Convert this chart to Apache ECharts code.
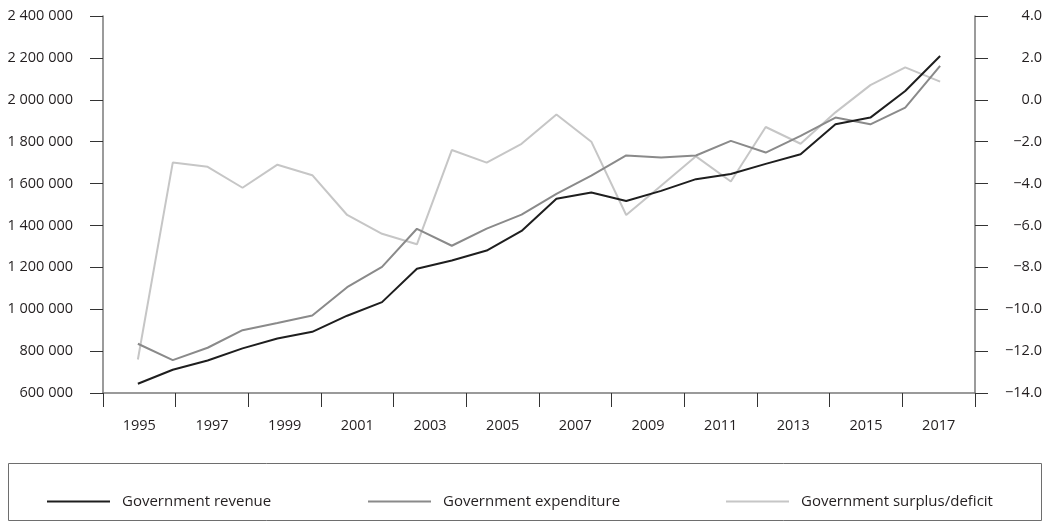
<!DOCTYPE html>
<html>
<head>
<meta charset="utf-8">
<script src="https://cdn.jsdelivr.net/npm/echarts@6/dist/echarts.min.js"></script>
<style>html,body{margin:0;padding:0;background:#fff}#c{width:1051px;height:521px}</style>
</head>
<body>
<div id="c"></div>
<script>
// Data points (24 yearly observations)
const years = ['1995','1996','1997','1998','1999','2000','2001','2002','2003','2004','2005','2006','2007','2008','2009','2010','2011','2012','2013','2014','2015','2016','2017','2018'];
// Axis tick labels shown under the chart
const xTickLabels = ['1995','1997','1999','2001','2003','2005','2007','2009','2011','2013','2015','2017'];

const revenue = [644000, 711000, 755000, 813000, 860000, 892000, 969000, 1034000, 1193000, 1233000, 1280000, 1374000, 1527000, 1557000, 1517000, 1565000, 1621000, 1646000, 1694000, 1740000, 1883000, 1915000, 2042000, 2209000];
const expenditure = [835000, 757000, 816000, 900000, 934000, 970000, 1105000, 1202000, 1384000, 1303000, 1385000, 1452000, 1551000, 1638000, 1734000, 1724000, 1734000, 1804000, 1748000, 1828000, 1915000, 1883000, 1963000, 2162000];
const surplus = [-12.4, -3.0, -3.2, -4.2, -3.1, -3.6, -5.5, -6.4, -6.9, -2.4, -3.0, -2.1, -0.7, -2.0, -5.5, -4.1, -2.7, -3.9, -1.3, -2.1, -0.6, 0.7, 1.55, 0.87];

const seriesNames = ['Government revenue', 'Government expenditure', 'Government surplus/deficit'];
const colors = ['#1e1e1e', '#8a8a8a', '#c6c6c6'];

const FONT = '"Open Sans", "Noto Sans", sans-serif';
const TXT = '#231f20';

function fmtThousands(v) {
  return String(Math.round(v)).replace(/\B(?=(\d{3})+(?!\d))/g, ' ');
}
function fmtRight(v) {
  return v.toFixed(1).replace('-', '\u2212');
}

const chart = echarts.init(document.getElementById('c'), null, {renderer: 'canvas'});

const legendCommon = {
  orient: 'horizontal',
  top: 488,
  padding: 0,
  itemWidth: 63,
  itemHeight: 2,
  icon: 'rect',
  selectedMode: false,
  textStyle: {fontFamily: FONT, fontSize: 15, color: TXT, lineHeight: 18, padding: [0, 0, 9, 7]}
};

chart.setOption({
  animation: false,
  backgroundColor: '#ffffff',
  color: colors,
  grid: {left: 103, right: 76, top: 16, bottom: 128, containLabel: false},
  graphic: [{
    type: 'rect',
    shape: {x: 8.5, y: 463.5, width: 1033, height: 57},
    style: {fill: 'none', stroke: '#6e6e6e', lineWidth: 1},
    silent: true
  }],
  legend: [
    Object.assign({}, legendCommon, {left: 47, data: [seriesNames[0]]}),
    Object.assign({}, legendCommon, {left: 368, data: [seriesNames[1]]}),
    Object.assign({}, legendCommon, {left: 726, data: [seriesNames[2]]})
  ],
  xAxis: [
    {
      type: 'category',
      data: xTickLabels,
      boundaryGap: true,
      position: 'bottom',
      axisLine: {show: true, onZero: false, lineStyle: {color: '#7a7a7a', width: 1.5}},
      axisTick: {show: true, length: 14, interval: 0, lineStyle: {color: '#333', width: 1}},
      axisLabel: {show: true, interval: 0, margin: 25, fontFamily: FONT, fontSize: 14.5, color: TXT},
      splitLine: {show: false}
    },
    {
      type: 'value',
      min: -1,
      max: 24,
      show: false,
      axisLine: {onZero: false}
    }
  ],
  yAxis: [
    {
      type: 'value',
      position: 'left',
      min: 600000,
      max: 2400000,
      interval: 200000,
      axisLine: {show: true, onZero: false, lineStyle: {color: '#7a7a7a', width: 1.5}},
      axisTick: {show: true, length: 13, lineStyle: {color: '#333', width: 1}},
      axisLabel: {margin: 30, fontFamily: FONT, fontSize: 14.5, color: TXT, formatter: fmtThousands},
      splitLine: {show: false}
    },
    {
      type: 'value',
      position: 'right',
      min: -14,
      max: 4,
      interval: 2,
      axisLine: {show: true, onZero: false, lineStyle: {color: '#7a7a7a', width: 1.5}},
      axisTick: {show: true, length: 13, lineStyle: {color: '#333', width: 1}},
      axisLabel: {margin: 67, align: 'right', fontFamily: FONT, fontSize: 14.5, color: TXT, formatter: fmtRight},
      splitLine: {show: false}
    }
  ],
  series: [
    {
      name: seriesNames[2], type: 'line', xAxisIndex: 1, yAxisIndex: 1,
      data: surplus.map((v, i) => [i, v]),
      showSymbol: false, symbol: 'none',
      lineStyle: {color: colors[2], width: 2}, itemStyle: {color: colors[2]}, z: 2
    },
    {
      name: seriesNames[1], type: 'line', xAxisIndex: 1, yAxisIndex: 0,
      data: expenditure.map((v, i) => [i, v]),
      showSymbol: false, symbol: 'none',
      lineStyle: {color: colors[1], width: 2}, itemStyle: {color: colors[1]}, z: 3
    },
    {
      name: seriesNames[0], type: 'line', xAxisIndex: 1, yAxisIndex: 0,
      data: revenue.map((v, i) => [i, v]),
      showSymbol: false, symbol: 'none',
      lineStyle: {color: colors[0], width: 2}, itemStyle: {color: colors[0]}, z: 4
    }
  ]
});
</script>
</body>
</html>
